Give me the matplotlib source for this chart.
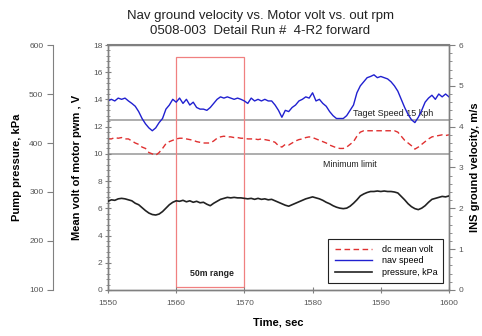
import numpy as np
import matplotlib
matplotlib.use("Agg")
import matplotlib.pyplot as plt
from matplotlib.ticker import MultipleLocator

plt.rcParams['font.family'] = ['Liberation Sans', 'DejaVu Sans']

# time base, seconds (0.5 s samples)
time_s = np.arange(1550.0, 1600.01, 0.5)

# mean volt of motor pwm, V
dc_volt = [
    11.1, 11.1, 11.2, 11.15, 11.2, 11.1, 11.1, 10.95, 10.8, 10.7,
    10.5, 10.4, 10.1, 10.0, 9.9, 10.1, 10.4, 10.75, 10.9, 11.0,
    11.1, 11.15, 11.15, 11.1, 11.05, 11.0, 10.9, 10.85, 10.8, 10.8,
    10.8, 10.95, 11.15, 11.25, 11.3, 11.25, 11.25, 11.2, 11.2, 11.15,
    11.15, 11.1, 11.1, 11.1, 11.05, 11.1, 11.05, 11.0, 10.95, 10.85,
    10.6, 10.5, 10.7, 10.65, 10.8, 10.95, 11.05, 11.1, 11.2, 11.25,
    11.2, 11.1, 11.0, 10.9, 10.8, 10.65, 10.55, 10.45, 10.4, 10.4,
    10.5, 10.7, 10.9, 11.3, 11.6, 11.7, 11.7, 11.7, 11.7, 11.7,
    11.7, 11.7, 11.7, 11.7, 11.7, 11.6, 11.3, 11.0, 10.8, 10.6,
    10.35, 10.5, 10.7, 10.9, 11.1, 11.25, 11.3, 11.35, 11.4, 11.35,
    11.4,
]

# INS ground velocity, m/s
nav_speed = [
    4.63, 4.67, 4.63, 4.70, 4.67, 4.70, 4.63, 4.57, 4.50, 4.37,
    4.20, 4.07, 3.97, 3.90, 3.97, 4.10, 4.20, 4.43, 4.53, 4.67,
    4.60, 4.70, 4.57, 4.67, 4.53, 4.60, 4.47, 4.43, 4.43, 4.40,
    4.47, 4.57, 4.67, 4.73, 4.70, 4.73, 4.70, 4.67, 4.70, 4.67,
    4.63, 4.57, 4.70, 4.63, 4.67, 4.63, 4.67, 4.63, 4.63, 4.53,
    4.40, 4.23, 4.40, 4.37, 4.47, 4.53, 4.63, 4.67, 4.73, 4.70,
    4.83, 4.63, 4.67, 4.57, 4.50, 4.37, 4.27, 4.20, 4.20, 4.20,
    4.27, 4.40, 4.53, 4.83, 5.00, 5.10, 5.20, 5.23, 5.27, 5.20,
    5.23, 5.20, 5.17, 5.10, 5.00, 4.87, 4.67, 4.47, 4.30, 4.17,
    4.10, 4.23, 4.40, 4.60, 4.70, 4.77, 4.67, 4.80, 4.73, 4.80,
    4.73,
]

# pump pressure, kPa
pressure = [
    281, 284, 283, 286, 287, 286, 284, 282, 277, 274,
    268, 262, 257, 254, 253, 255, 260, 267, 274, 279,
    282, 281, 283, 280, 282, 279, 281, 278, 279, 275,
    272, 277, 281, 285, 287, 289, 288, 289, 288, 288,
    287, 286, 287, 285, 287, 285, 286, 284, 285, 282,
    279, 276, 273, 271, 274, 277, 280, 283, 286, 288,
    290, 288, 286, 283, 279, 276, 272, 269, 267, 266,
    267, 271, 277, 284, 292, 296, 299, 301, 301, 302,
    301, 302, 301, 301, 300, 298, 291, 284, 276, 270,
    266, 264, 267, 272, 279, 285, 287, 289, 291, 290,
    292,
]

target_speed_v = 12.5
minimum_limit_v = 10.0
range_window = (1560, 1570)
range_volts = (0.2, 17.1)

axis_grey = '#808080'
tick_grey = '#555555'

fig = plt.figure(figsize=(4.82, 3.36), dpi=100)
ax = fig.add_axes([0.224, 0.137, 0.7075, 0.729])
ax_r = ax.twinx()
ax_p = ax.twinx()

# volt axis (left)
l_red, = ax.plot(time_s, dc_volt, color='#e03030', lw=1.0, ls=(0, (4, 2.5)), label='dc mean volt')
ax.axhline(target_speed_v, color='#a0a0a0', lw=1.2, zorder=1)
ax.axhline(minimum_limit_v, color='#a0a0a0', lw=1.2, zorder=1)
ax.add_patch(plt.Rectangle((range_window[0], range_volts[0]),
                           range_window[1] - range_window[0],
                           range_volts[1] - range_volts[0],
                           fill=False, ec='#f08080', lw=0.9, zorder=1))
ax.text(1586.0, 12.75, 'Taget Speed 15 kph', fontsize=6.5, color='#222222', zorder=5)
ax.text(1581.6, 9.0, 'Minimum limit', fontsize=6.3, color='#222222')
ax.text(1562.0, 1.0, '50m range', fontsize=6.3, color='#222222', fontweight='bold')

ax.set_xlim(1550, 1600)
ax.set_ylim(0, 18)
ax.xaxis.set_major_locator(MultipleLocator(10))
ax.yaxis.set_major_locator(MultipleLocator(2))
ax.yaxis.set_minor_locator(MultipleLocator(0.4))
ax.tick_params(axis='both', which='major', labelsize=6, labelcolor=tick_grey, color=axis_grey,
               direction='inout', length=4, width=0.8, pad=2)
ax.tick_params(axis='x', which='major', pad=5)
ax.tick_params(axis='y', which='minor', color=axis_grey, direction='inout', length=3, width=0.6)
ax.set_ylabel('Mean volt of motor pwm , V', fontsize=8, fontweight='bold', labelpad=8)
ax.set_xlabel('Time, sec', fontsize=8, fontweight='bold', labelpad=8)

# velocity axis (right)
l_blue, = ax_r.plot(time_s, nav_speed, color='#2020d0', lw=1.0, label='nav speed')
ax_r.set_ylim(0, 6)
ax_r.yaxis.set_major_locator(MultipleLocator(1))
ax_r.yaxis.set_minor_locator(MultipleLocator(0.2))
ax_r.tick_params(axis='y', which='major', labelsize=6, labelcolor=tick_grey, color=axis_grey,
                 direction='out', length=4, width=0.8, pad=3)
ax_r.tick_params(axis='y', which='minor', color=axis_grey, direction='out', length=2, width=0.6)
ax_r.set_ylabel('INS ground velocity, m/s', fontsize=8, fontweight='bold', labelpad=5)

# pressure axis (offset left)
l_black, = ax_p.plot(time_s, pressure, color='#222222', lw=1.2, label='pressure, kPa')
ax_p.set_ylim(100, 600)
ax_p.yaxis.set_major_locator(MultipleLocator(100))
ax_p.spines['left'].set_position(('axes', -0.161))
ax_p.spines['left'].set_visible(True)
ax_p.spines['left'].set_color(axis_grey)
ax_p.spines['right'].set_visible(False)
ax_p.spines['top'].set_visible(False)
ax_p.spines['bottom'].set_visible(False)
ax_p.yaxis.set_label_position('left')
ax_p.yaxis.set_ticks_position('left')
ax_p.tick_params(axis='y', labelsize=6, labelcolor=tick_grey, color=axis_grey,
                 direction='out', length=4, width=0.8, pad=3)
ax_p.set_ylabel('Pump pressure, kPa', fontsize=8, fontweight='bold', labelpad=5)

for a in (ax, ax_r):
    for s in a.spines.values():
        s.set_color(axis_grey)
        s.set_linewidth(1.0)
ax.spines['top'].set_linewidth(1.5)

leg = ax_p.legend(handles=[l_red, l_blue, l_black], loc='lower right',
                  bbox_to_anchor=(0.997, 0.01), fontsize=6.5, frameon=True, fancybox=False,
                  edgecolor='#222222', framealpha=1, handlelength=4.2, borderpad=0.7,
                  labelspacing=0.25, handletextpad=1.0)
leg.get_frame().set_linewidth(0.8)

fig.suptitle('Nav ground velocity vs. Motor volt vs. out rpm\n0508-003  Detail Run #  4-R2 forward',
             fontsize=9.5, x=0.54, y=0.97, linespacing=1.3, color='#222222')

fig.savefig('out.png', dpi=100)
